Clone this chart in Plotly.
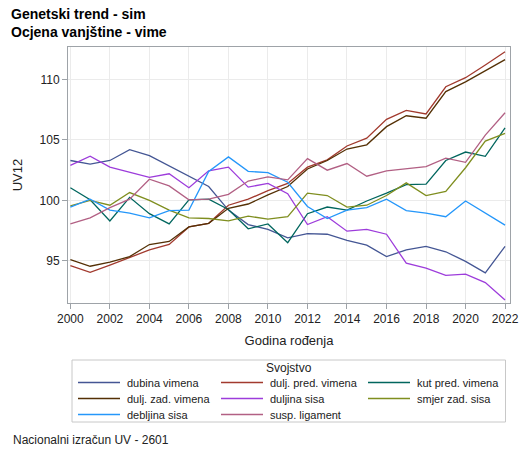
import plotly.graph_objects as go

years = list(range(2000, 2023))

dubina_vimena = [103.3, 103.0, 103.3, 104.2, 103.7, 102.85, 102.0, 101.15, 99.2, 98.0, 97.6, 96.9,
                 97.25, 97.2, 96.7, 96.3, 95.35, 95.9, 96.2, 95.75, 94.95, 94.0, 96.2]
dulj_pred_vimena = [94.6, 94.05, 94.65, 95.3, 95.9, 96.35, 97.8, 98.1, 99.6, 100.1, 100.8, 101.4,
                    102.75, 103.35, 104.5, 105.15, 106.7, 107.45, 107.15, 109.4, 110.15, 111.2, 112.3]
kut_pred_vimena = [101.05, 100.05, 98.3, 100.25, 98.9, 98.05, 100.05, 100.1, 99.25, 97.65, 98.05, 96.5,
                   98.9, 99.45, 99.2, 99.95, 100.6, 101.3, 101.35, 103.3, 104.0, 103.65, 106.0]
dulj_zad_vimena = [95.1, 94.55, 94.9, 95.35, 96.35, 96.6, 97.8, 98.1, 99.35, 99.7, 100.45, 101.15,
                   102.6, 103.3, 104.25, 104.6, 106.1, 107.0, 106.8, 109.0, 109.8, 110.75, 111.65]
duljina_sisa = [102.9, 103.65, 102.75, 102.35, 101.9, 102.2, 101.05, 102.45, 102.75, 101.1, 101.4, 100.55,
                98.0, 98.65, 97.45, 97.6, 97.2, 94.8, 94.4, 93.8, 93.9, 93.2, 91.75]
smjer_zad_sisa = [99.55, 100.0, 99.6, 100.65, 100.0, 99.2, 98.55, 98.5, 98.3, 98.7, 98.45, 98.65,
                  100.6, 100.4, 99.45, 99.6, 100.4, 101.45, 100.4, 100.75, 102.7, 104.9, 105.55]
debljina_sisa = [99.45, 100.1, 99.2, 98.95, 98.55, 99.15, 99.2, 102.4, 103.6, 102.4, 102.3, 101.5,
                 99.5, 98.5, 99.2, 99.4, 100.1, 99.15, 98.95, 98.65, 99.95, 98.95, 97.95]
susp_ligament = [98.05, 98.55, 99.4, 100.1, 101.75, 101.2, 100.05, 100.1, 100.5, 101.6, 101.95, 101.7,
                 103.45, 102.5, 103.05, 102.0, 102.45, 102.65, 102.8, 103.5, 103.15, 105.4, 107.25]

series = [
    ("dubina vimena", dubina_vimena, "#445694"),
    ("dulj. pred. vimena", dulj_pred_vimena, "#A23A2E"),
    ("kut pred. vimena", kut_pred_vimena, "#01665E"),
    ("dulj. zad. vimena", dulj_zad_vimena, "#543005"),
    ("duljina sisa", duljina_sisa, "#9D3CDB"),
    ("smjer zad. sisa", smjer_zad_sisa, "#7F8E1F"),
    ("debljina sisa", debljina_sisa, "#2597FA"),
    ("susp. ligament", susp_ligament, "#B26084"),
]

W, H = 529, 454
L, R, T, B = 68, 19, 47, 151
PW, PH = W - L - R, H - T - B


def px(x):
    return (x - L) / PW


def py(y):
    return (H - B - y) / PH


fig = go.Figure()
for name, vals, color in series:
    fig.add_trace(go.Scatter(x=years, y=vals, mode="lines", name=name,
                             line=dict(color=color, width=1.3)))

# legend drawn by hand (SAS style: 3 columns, boxed, titled)
shapes = [dict(type="rect", xref="paper", yref="paper", x0=px(72), x1=px(505.5),
               y0=py(360), y1=py(422), line=dict(color="#c8c8c8", width=1), fillcolor="white")]
annots = [dict(text="Svojstvo", xref="paper", yref="paper", x=px(289), y=py(368),
               xanchor="center", yanchor="middle", showarrow=False, font=dict(size=12, color="#222"))]
col_x = [78, 221, 368]
row_y = [382.5, 398.5, 414.5]
for i, (name, vals, color) in enumerate(series):
    cx, ry = col_x[i % 3], row_y[i // 3]
    shapes.append(dict(type="line", xref="paper", yref="paper", x0=px(cx), x1=px(cx + 42),
                       y0=py(ry), y1=py(ry), line=dict(color=color, width=1.3)))
    annots.append(dict(text=name, xref="paper", yref="paper", x=px(cx + 47), y=py(ry),
                       xanchor="left", yanchor="middle", showarrow=False,
                       font=dict(size=11, color="#222")))

annots += [
    dict(text="<b>Genetski trend - sim</b>", xref="paper", yref="paper",
         x=px(9), y=py(14), xanchor="left", yanchor="middle", showarrow=False,
         font=dict(size=14, color="black")),
    dict(text="<b>Ocjena vanjštine - vime</b>", xref="paper", yref="paper",
         x=px(9), y=py(32), xanchor="left", yanchor="middle", showarrow=False,
         font=dict(size=14, color="black")),
    dict(text="Nacionalni izračun UV - 2601", xref="paper", yref="paper",
         x=px(11), y=py(440), xanchor="left", yanchor="middle", showarrow=False,
         font=dict(size=12, color="#222")),
]

font = "Liberation Sans, Arial, sans-serif"
fig.update_layout(
    width=W, height=H,
    margin=dict(l=L, r=R, t=T, b=B),
    paper_bgcolor="white", plot_bgcolor="white",
    font=dict(family=font, size=12, color="#222"),
    showlegend=False,
    shapes=shapes,
    annotations=annots,
)
fig.update_xaxes(
    range=[1999.88, 2022.25], tickmode="linear", tick0=2000, dtick=2,
    showgrid=True, gridcolor="#ebebeb", showline=True, linecolor="#9ea3a8", mirror=True,
    ticks="outside", ticklen=5, tickcolor="#9ea3a8", zeroline=False, automargin=False,
    title=dict(text="Godina rođenja", font=dict(size=13), standoff=10),
    tickfont=dict(size=12),
)
fig.update_yaxes(
    range=[91.51, 112.69], tickvals=[95, 100, 105, 110],
    showgrid=True, gridcolor="#ebebeb", showline=True, linecolor="#9ea3a8", mirror=True,
    ticks="outside", ticklen=5, tickcolor="#9ea3a8", zeroline=False, automargin=False,
    title=dict(text="UV12", font=dict(size=13), standoff=14),
    tickfont=dict(size=12),
)

fig.write_html("out.html", config={"displayModeBar": False},
               post_script="document.body.style.margin='0';")
